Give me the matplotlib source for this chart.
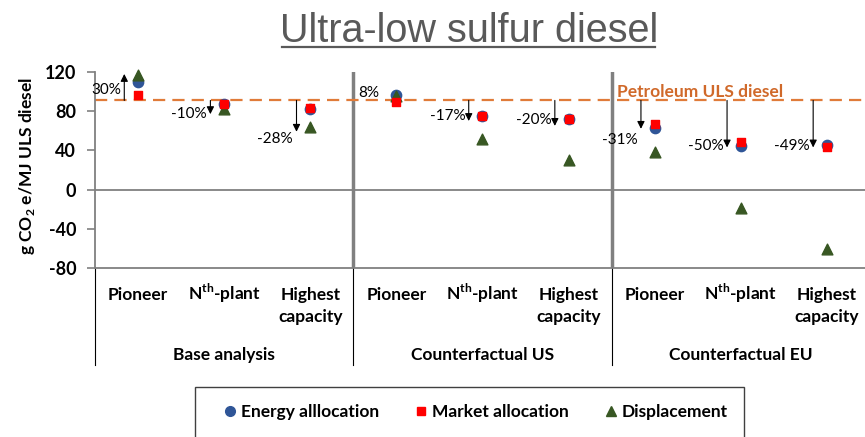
import matplotlib
matplotlib.use('Agg')
import matplotlib.pyplot as plt
from matplotlib.transforms import blended_transform_factory
from matplotlib.patches import Rectangle
from matplotlib.lines import Line2D

plt.rcParams['font.family'] = ['Lato', 'DejaVu Sans']
plt.rcParams['mathtext.fontset'] = 'custom'
plt.rcParams['mathtext.rm'] = 'Lato:bold'
plt.rcParams['mathtext.bf'] = 'Lato:bold'
plt.rcParams['axes.unicode_minus'] = False

# data
groups = ['Base analysis', 'Counterfactual US', 'Counterfactual EU']
cases = ['Pioneer', 'N$^{\\mathrm{th}}$-plant', 'Highest\ncapacity']
energy = [110, 87, 82, 97, 75, 72, 63, 45, 46]
market = [97, 87, 83, 89, 75, 72, 67, 49, 43]
displacement = [117, 82, 64, 96, 52, 30, 38, -19, -61]
petroleum = 91
change_labels = ['30%', '-10%', '-28%', '8%', '-17%', '-20%', '-31%', '-50%', '-49%']
arrow_ends = [118, 77, 59, None, 70, 65, 62, 43, 43]
label_y = [102, 77, 52, 99, 75, 71, 51, 44, 44]

blue = '#2F5597'
red = '#FF0000'
green = '#385723'
orange = '#E07B39'

fig = plt.figure(figsize=(8.65, 4.37), dpi=100)
ax = fig.add_axes([95 / 865, 1 - 268 / 437, 775 / 865, 196 / 437])
ax.set_xlim(-0.5, 8.5)
ax.set_ylim(-80, 120)

x = list(range(len(energy)))

for s in ['top', 'right']:
    ax.spines[s].set_visible(False)
for s in ['left', 'bottom']:
    ax.spines[s].set_color('#808080')
    ax.spines[s].set_linewidth(1.3)
ax.set_xticks([])
ax.set_yticks([-80, -40, 0, 40, 80, 120])
ax.tick_params(axis='y', colors='#808080', length=5.5, width=1.2, pad=8,
               labelcolor='black', labelsize=13)
for t in ax.get_yticklabels():
    t.set_fontweight('bold')

ax.axhline(0, color='#808080', lw=1.3, zorder=1)
ax.axvline(2.5, color='#808080', lw=2.5, zorder=1)
ax.axvline(5.5, color='#808080', lw=2.5, zorder=1)
ax.axhline(petroleum, color=orange, lw=1.6, dashes=(5.5, 3.2), zorder=2)
ax.text(5.56, petroleum + 3.5, 'Petroleum ULS diesel', color='#D0692A', fontsize=12.5,
        fontweight='bold', va='baseline', ha='left')

# percentage change arrows
for i in x:
    ax_x = i - 0.16
    if arrow_ends[i] is not None:
        ax.annotate('', xy=(ax_x, arrow_ends[i]), xytext=(ax_x, petroleum),
                    arrowprops=dict(arrowstyle='-|>', color='black', lw=0.8,
                                    mutation_scale=11, shrinkA=0, shrinkB=0),
                    zorder=2)
    ax.text(ax_x - 0.04, label_y[i], change_labels[i], ha='right', va='center',
            fontsize=11, color='black')

ax.scatter(x, energy, marker='o', s=55, color=blue, zorder=3, clip_on=False)
ax.scatter(x, market, marker='s', s=36, color=red, zorder=4, clip_on=False)
ax.scatter(x, displacement, marker='^', s=60, color=green, zorder=3, clip_on=False)

# category axis below the plot
trans = blended_transform_factory(ax.transData, ax.transAxes)
for bx in [-0.5, 2.5, 5.5]:
    ax.plot([bx, bx], [0, -0.495], transform=trans, color='black', lw=0.8,
            clip_on=False)
for i in x:
    for k, line in enumerate(cases[i % 3].split('\n')):
        ax.text(i, -0.163 - 0.113 * k, line, transform=trans, ha='center',
                va='baseline', fontsize=12.5, fontweight='bold')
for g, name in enumerate(groups):
    ax.text(g * 3 + 1, -0.469, name, transform=trans, ha='center', va='baseline',
            fontsize=12.5, fontweight='bold')

fig.text(27 / 865, 1 - 166 / 437, r'g CO$_2$ e/MJ ULS diesel', rotation=90,
         ha='center', va='center', fontsize=12.5, fontweight='bold')

# title with underline
fig.text(469 / 865, 1 - 42 / 437, 'Ultra-low sulfur diesel', fontsize=28.5,
         color='#595959', family='Liberation Sans', ha='center', va='baseline')
fig.add_artist(Line2D([282 / 865, 655 / 865], [1 - 47 / 437] * 2, color='#595959',
                      lw=1.6))

# legend box
fig.add_artist(Rectangle((195 / 865, -0.1), 549 / 865, (437 - 387) / 437 + 0.1,
                         transform=fig.transFigure, facecolor='none',
                         edgecolor='#404040', lw=1))
handles = [Line2D([], [], marker='o', ls='', color=blue, markersize=7),
           Line2D([], [], marker='s', ls='', color=red, markersize=6),
           Line2D([], [], marker='^', ls='', color=green, markersize=7)]
fig.legend(handles, ['Energy alllocation', 'Market allocation', 'Displacement'],
           loc='center', bbox_to_anchor=(475 / 865, 1 - 412 / 437), ncol=3,
           frameon=False, prop={'weight': 'bold', 'size': 12.5},
           handletextpad=0.15, handlelength=0.9, columnspacing=2.0)

fig.savefig('out.png', dpi=100)
